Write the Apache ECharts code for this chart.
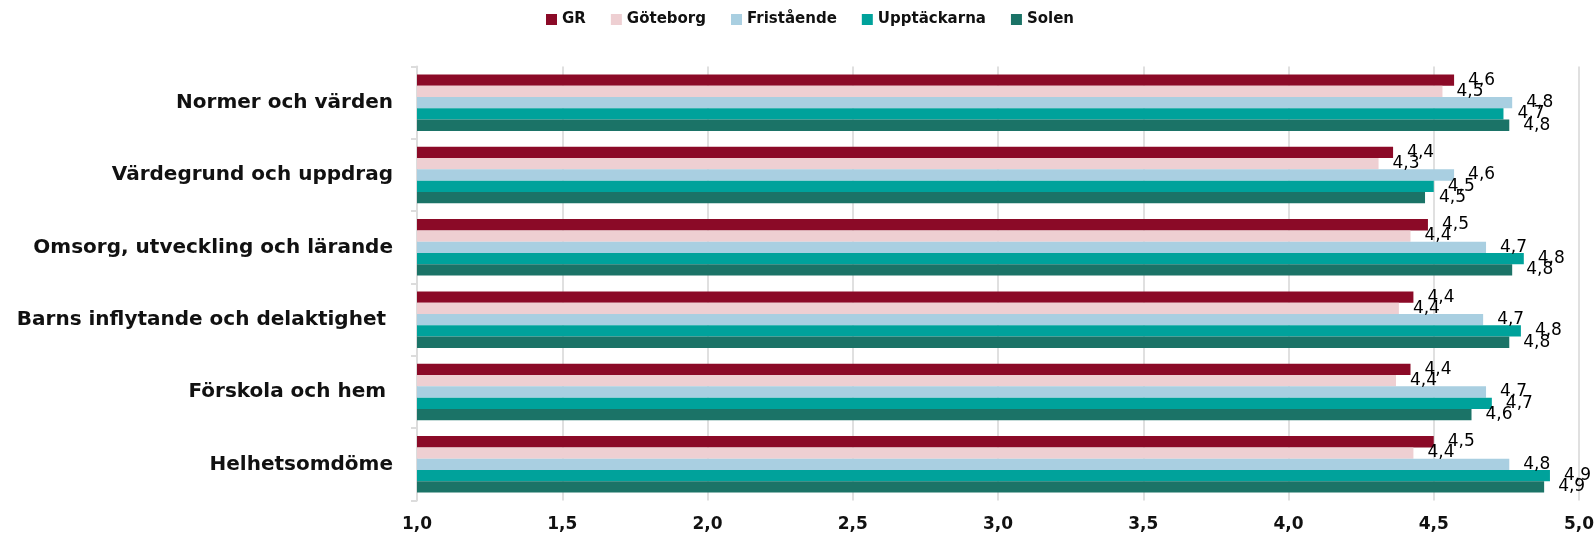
<!DOCTYPE html>
<html>
<head>
<meta charset="utf-8">
<script src="https://cdn.jsdelivr.net/npm/echarts@6/dist/echarts.min.js"></script>
<style>
html,body{margin:0;padding:0;background:#fff;}
#chart{width:1595px;height:533px;}
</style>
</head>
<body>
<div id="chart"></div>
<script>
const categories = ['Normer och värden', 'Värdegrund och uppdrag', 'Omsorg, utveckling och lärande', 'Barns inflytande och delaktighet ', 'Förskola och hem ', 'Helhetsomdöme'];
const seriesNames = ['GR', 'Göteborg', 'Fristående', 'Upptäckarna', 'Solen'];
const GR = [4.57, 4.36, 4.48, 4.43, 4.42, 4.50];
const Goteborg = [4.53, 4.31, 4.42, 4.38, 4.37, 4.43];
const Friststaende = [4.77, 4.57, 4.68, 4.67, 4.68, 4.76];
const Upptackarna = [4.74, 4.50, 4.81, 4.80, 4.70, 4.90];
const Solen = [4.76, 4.47, 4.77, 4.76, 4.63, 4.88];
const xTicks = {min: 1, max: 5, interval: 0.5};

const colors = ['#8B0A27', '#EECFD2', '#A9CFE1', '#00A29B', '#1B7367'];
const seriesData = [GR, Goteborg, Friststaende, Upptackarna, Solen];
const fmt = v => v.toFixed(1).replace('.', ',');

const chart = echarts.init(document.getElementById('chart'));
chart.setOption({
  animation: false,
  backgroundColor: '#fff',
  color: colors,
  legend: {
    data: seriesNames,
    left: 541,
    top: 7,
    itemWidth: 11,
    itemHeight: 11,
    itemGap: 25,
    icon: 'rect',
    textStyle: {fontFamily: 'DejaVu Sans', fontWeight: 'bold', fontSize: 15, color: '#111'}
  },
  grid: {left: 417, right: 16, top: 66.5, bottom: 32.5, containLabel: false, outerBoundsMode: 'none'},
  xAxis: {
    type: 'value',
    min: xTicks.min, max: xTicks.max, interval: xTicks.interval,
    axisLine: {show: false},
    axisTick: {show: false},
    splitLine: {show: true, lineStyle: {color: '#e0e0e0', width: 2}},
    axisLabel: {
      formatter: v => fmt(v),
      fontFamily: 'DejaVu Sans', fontWeight: 'bold', fontSize: 17, color: '#111', margin: 16
    }
  },
  yAxis: {
    type: 'category',
    inverse: true,
    data: categories,
    axisLine: {show: true, lineStyle: {color: '#dcdcdc', width: 2}},
    axisTick: {show: true, length: 6, lineStyle: {color: '#dcdcdc', width: 2}},
    axisLabel: {fontFamily: 'DejaVu Sans', fontWeight: 'bold', fontSize: 20, color: '#111', margin: 24}
  },
  series: seriesNames.map((name, i) => ({
    name: name,
    type: 'bar',
    data: seriesData[i],
    barGap: '0%',
    barCategoryGap: '22%',
    clip: true,
    itemStyle: {color: colors[i]},
    label: {
      show: true,
      position: 'right',
      distance: 14,
      formatter: p => fmt(p.value),
      fontFamily: 'DejaVu Sans',
      fontSize: 17,
      color: '#000'
    }
  }))
});
</script>
</body>
</html>
